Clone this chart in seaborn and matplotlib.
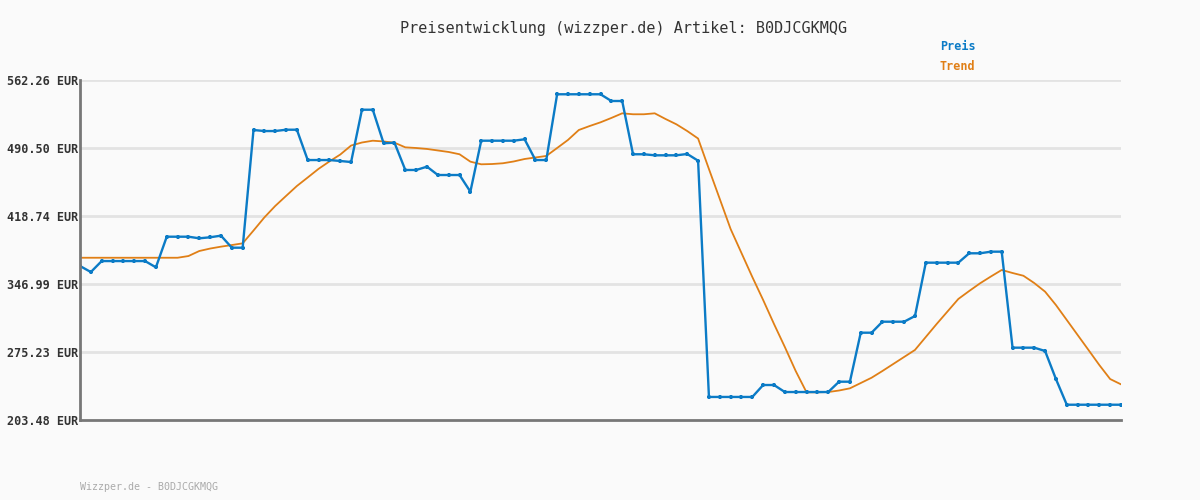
import numpy as np
import pandas as pd
import matplotlib
matplotlib.use("Agg")
import matplotlib.pyplot as plt
import seaborn as sns

# Data (EUR)
preis = [366.0, 359.6, 371.2, 371.2, 371.2, 371.2, 371.2, 364.6, 396.9, 396.9,
         396.9, 395.2, 396.3, 398.0, 385.3, 385.3, 509.5, 508.4, 508.4, 509.8,
         509.8, 477.8, 477.8, 477.8, 476.8, 475.7, 530.9, 530.9, 495.5, 496.1,
         467.3, 467.3, 470.8, 462.0, 462.0, 462.0, 444.4, 498.2, 498.2, 498.2,
         498.2, 499.7, 477.8, 477.8, 547.2, 547.2, 547.2, 547.2, 547.2, 540.1,
         540.1, 483.9, 483.9, 482.8, 482.8, 482.8, 484.2, 477.1, 227.8, 227.8,
         227.8, 227.8, 227.8, 240.4, 240.4, 233.0, 233.0, 233.0, 233.0, 233.0,
         243.9, 243.9, 295.6, 295.6, 307.2, 307.2, 307.2, 313.2, 369.5, 369.5,
         369.5, 369.5, 379.4, 379.4, 381.1, 381.1, 279.8, 279.8, 279.8, 276.3,
         246.7, 219.6, 219.6, 219.6, 219.6, 219.6, 219.6]

trend = [374.7, 374.7, 374.7, 374.7, 374.7, 374.7, 374.7, 374.7, 374.7, 374.7,
         376.5, 381.8, 384.4, 386.4, 388.1, 389.9, 403.4, 417.2, 429.3, 439.9,
         450.4, 459.4, 468.5, 476.3, 483.6, 493.1, 496.3, 498.2, 497.4, 496.1,
         491.2, 490.5, 489.5, 487.9, 486.3, 483.9, 476.1, 473.3, 473.6, 474.4,
         476.3, 478.9, 480.5, 482.1, 490.5, 499.0, 509.5, 513.7, 517.6, 522.2,
         527.1, 526.1, 526.1, 527.1, 521.1, 515.5, 508.4, 500.5, 468.3, 436.7,
         405.0, 379.7, 354.4, 330.1, 304.8, 280.5, 255.2, 232.7, 232.7, 233.0,
         234.6, 236.9, 242.5, 248.1, 255.2, 262.6, 270.0, 277.4, 291.1, 304.8,
         318.0, 331.2, 339.6, 347.7, 354.9, 361.8, 358.6, 355.7, 348.0, 338.9,
         324.8, 309.0, 293.2, 277.4, 261.5, 246.7, 241.1]

y_ticks = [203.48, 275.23, 346.99, 418.74, 490.50, 562.26]
artikel = "B0DJCGKMQG"

df = pd.DataFrame({"idx": np.arange(len(preis)), "Preis": preis, "Trend": trend})

bg = "#fafafa"
blue = "#0b7bc6"
orange = "#e07f16"
mono = "DejaVu Sans Mono"

sns.set_style("white")
fig = plt.figure(figsize=(12, 5), dpi=100, facecolor=bg)
ax = fig.add_axes([80 / 1200, 80 / 500, 1041 / 1200, 340 / 500])
ax.set_facecolor(bg)

sns.lineplot(data=df, x="idx", y="Trend", ax=ax, color=orange, linewidth=1.3)
sns.lineplot(data=df, x="idx", y="Preis", ax=ax, color=blue, linewidth=1.7,
             marker="+", markersize=3.5, markeredgewidth=1.7, markeredgecolor=blue)

ax.set_xlim(0, len(preis) - 1)
ax.set_ylim(y_ticks[0], y_ticks[-1])
ax.set_yticks(y_ticks)
ax.set_yticklabels(["%.2f EUR" % v for v in y_ticks], fontfamily=mono,
                   fontsize=8.5, fontweight="bold", color="#333333")
ax.set_xticks([])
ax.set_xlabel("")
ax.set_ylabel("")
ax.tick_params(axis="y", length=0, pad=1)

for v in y_ticks[1:]:
    ax.axhline(v, color="#e3e3e3", linewidth=2, zorder=0)

for side in ["top", "right"]:
    ax.spines[side].set_visible(False)
for side in ["left", "bottom"]:
    ax.spines[side].set_color("#777777")
    ax.spines[side].set_linewidth(2)

fig.text(624 / 1200, 1 - 28 / 500, "Preisentwicklung (wizzper.de) Artikel: " + artikel,
         ha="center", va="center", fontfamily=mono, fontsize=10.9, color="#333333")
fig.text(940 / 1200, 1 - 47 / 500, "Preis", ha="left", va="center",
         fontfamily=mono, fontsize=8.5, fontweight="bold", color=blue)
fig.text(940 / 1200, 1 - 67 / 500, "Trend", ha="left", va="center",
         fontfamily=mono, fontsize=8.5, fontweight="bold", color=orange)
fig.text(80 / 1200, 1 - 487 / 500, "Wizzper.de - " + artikel, ha="left", va="center",
         fontfamily=mono, fontsize=7.2, color="#aaaaaa")

plt.savefig("out.png", dpi=100, facecolor=bg)
